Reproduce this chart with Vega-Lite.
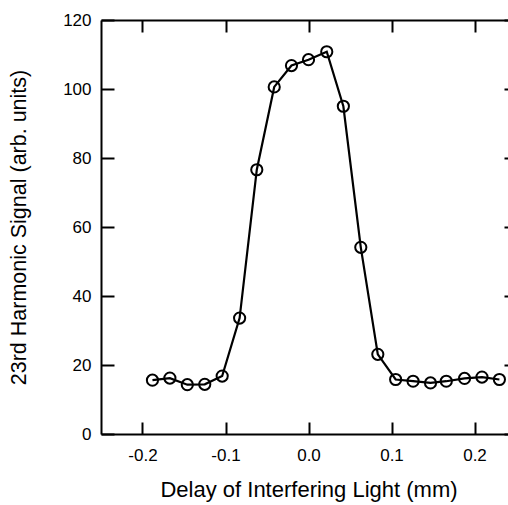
{
  "$schema": "https://vega.github.io/schema/vega-lite/v6.json",
  "autosize": {"type": "none"},
  "padding": {"left": 101, "top": 20, "right": -8, "bottom": 71},
  "width": 415,
  "height": 414,
  "background": "white",
  "config": {
    "view": {"stroke": null},
    "font": "Liberation Sans",
    "axis": {
      "domainColor": "black",
      "domainWidth": 2,
      "tickColor": "black",
      "tickWidth": 2,
      "labelColor": "black",
      "titleColor": "black",
      "grid": false,
      "labelFont": "Liberation Sans",
      "titleFont": "Liberation Sans",
      "titleFontWeight": "normal",
      "labelFontSize": 17,
      "titleFontSize": 22
    }
  },
  "data": {
    "values": [
      {"delay": -0.188, "signal": 15.6},
      {"delay": -0.167, "signal": 16.2},
      {"delay": -0.146, "signal": 14.3},
      {"delay": -0.125, "signal": 14.4},
      {"delay": -0.104, "signal": 16.8},
      {"delay": -0.083, "signal": 33.6},
      {"delay": -0.0623, "signal": 76.6},
      {"delay": -0.0413, "signal": 100.6},
      {"delay": -0.0205, "signal": 106.8},
      {"delay": 0.0, "signal": 108.5},
      {"delay": 0.022, "signal": 110.8},
      {"delay": 0.042, "signal": 95.0},
      {"delay": 0.063, "signal": 54.1},
      {"delay": 0.0835, "signal": 23.1},
      {"delay": 0.105, "signal": 15.8},
      {"delay": 0.126, "signal": 15.3},
      {"delay": 0.147, "signal": 14.8},
      {"delay": 0.166, "signal": 15.3},
      {"delay": 0.188, "signal": 16.1},
      {"delay": 0.209, "signal": 16.5},
      {"delay": 0.23, "signal": 15.8}
    ]
  },
  "layer": [
    {
      "mark": {"type": "line", "color": "black", "strokeWidth": 2.2},
      "encoding": {
        "x": {
          "field": "delay",
          "type": "quantitative",
          "scale": {"domain": [-0.25, 0.25], "nice": false, "zero": false},
          "axis": {
            "orient": "bottom",
            "title": "Delay of Interfering Light (mm)",
            "values": [-0.2, -0.1, 0, 0.1, 0.2],
            "labelExpr": "replace(datum.label, '\u2212', '-')",
            "tickSize": -12,
            "labelPadding": 25,
            "titlePadding": 16
          }
        },
        "y": {
          "field": "signal",
          "type": "quantitative",
          "scale": {"domain": [0, 120], "nice": false},
          "axis": {
            "orient": "left",
            "title": "23rd Harmonic Signal (arb. units)",
            "values": [0, 20, 40, 60, 80, 100, 120],
            "tickSize": -13,
            "labelPadding": 23,
            "titlePadding": 32,
            "titleFontSize": 21.5
          }
        }
      }
    },
    {
      "mark": {"type": "point", "shape": "circle", "filled": false, "color": "black", "fill": "white", "fillOpacity": 0, "strokeWidth": 2, "size": 125, "opacity": 1},
      "encoding": {
        "x": {"field": "delay", "type": "quantitative", "axis": null},
        "y": {"field": "signal", "type": "quantitative", "axis": null}
      }
    },
    {
      "mark": {"type": "rule", "opacity": 0},
      "encoding": {
        "x": {
          "field": "delay",
          "type": "quantitative",
          "axis": {
            "orient": "top",
            "title": null,
            "labels": false,
            "values": [-0.2, -0.1, 0, 0.1, 0.2],
            "tickSize": -12
          }
        },
        "y": {
          "field": "signal",
          "type": "quantitative",
          "axis": {
            "orient": "right",
            "title": null,
            "labels": false,
            "values": [0, 20, 40, 60, 80, 100, 120],
            "tickSize": -12
          }
        }
      }
    }
  ],
  "resolve": {"axis": {"x": "independent", "y": "independent"}}
}
